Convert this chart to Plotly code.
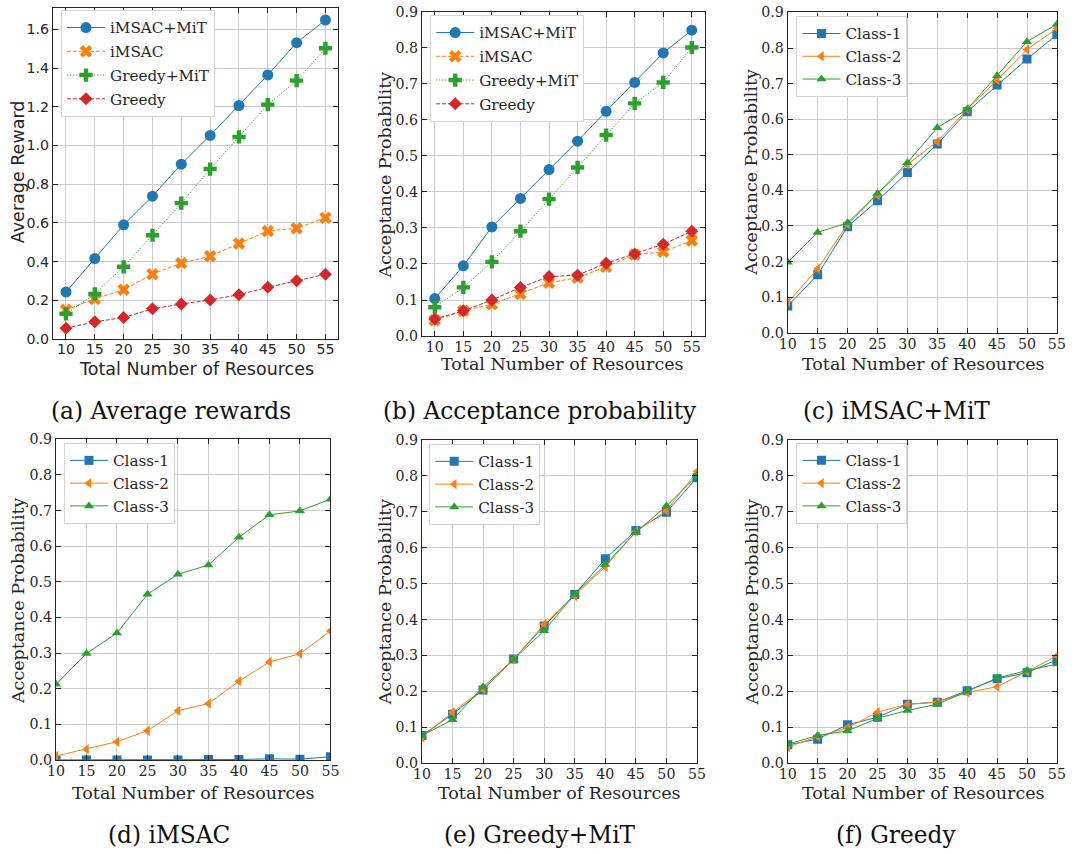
import plotly.graph_objects as go

# ---------------------------------------------------------------- data
resources = [10, 15, 20, 25, 30, 35, 40, 45, 50, 55]
x_ticks = [10, 15, 20, 25, 30, 35, 40, 45, 50, 55]

# (a) average reward per scheme
reward_imsac_mit = [0.243, 0.416, 0.590, 0.738, 0.903, 1.052, 1.206, 1.364, 1.531, 1.648]
reward_imsac = [0.151, 0.207, 0.255, 0.335, 0.392, 0.428, 0.493, 0.558, 0.572, 0.626]
reward_greedy_mit = [0.130, 0.233, 0.373, 0.536, 0.702, 0.878, 1.044, 1.211, 1.335, 1.502]
reward_greedy = [0.056, 0.089, 0.111, 0.156, 0.181, 0.202, 0.229, 0.267, 0.301, 0.335]

# (b) overall acceptance probability per scheme
acc_imsac_mit = [0.104, 0.195, 0.303, 0.382, 0.462, 0.541, 0.624, 0.704, 0.786, 0.849]
acc_imsac = [0.044, 0.070, 0.088, 0.117, 0.148, 0.162, 0.192, 0.226, 0.234, 0.265]
acc_greedy_mit = [0.080, 0.135, 0.206, 0.291, 0.380, 0.468, 0.558, 0.646, 0.704, 0.801]
acc_greedy = [0.047, 0.070, 0.100, 0.135, 0.165, 0.169, 0.202, 0.228, 0.255, 0.291]

# (c) iMSAC+MiT, per class
c_class1 = [0.075, 0.163, 0.298, 0.371, 0.450, 0.530, 0.621, 0.696, 0.769, 0.838]
c_class2 = [0.085, 0.180, 0.305, 0.387, 0.473, 0.537, 0.628, 0.710, 0.796, 0.855]
c_class3 = [0.198, 0.282, 0.309, 0.391, 0.478, 0.576, 0.628, 0.722, 0.818, 0.867]

# (d) iMSAC, per class
d_class1 = [0.000, 0.000, 0.000, 0.000, 0.000, 0.001, 0.001, 0.003, 0.002, 0.009]
d_class2 = [0.011, 0.030, 0.051, 0.082, 0.138, 0.158, 0.221, 0.275, 0.298, 0.362]
d_class3 = [0.212, 0.299, 0.356, 0.465, 0.521, 0.547, 0.625, 0.688, 0.699, 0.732]

# (e) Greedy+MiT, per class
e_class1 = [0.077, 0.136, 0.204, 0.290, 0.382, 0.470, 0.569, 0.648, 0.699, 0.795]
e_class2 = [0.072, 0.142, 0.206, 0.289, 0.387, 0.466, 0.547, 0.645, 0.703, 0.812]
e_class3 = [0.077, 0.121, 0.212, 0.289, 0.369, 0.470, 0.553, 0.643, 0.716, 0.801]

# (f) Greedy, per class
f_class1 = [0.051, 0.067, 0.107, 0.128, 0.164, 0.170, 0.202, 0.235, 0.252, 0.288]
f_class2 = [0.045, 0.074, 0.099, 0.142, 0.164, 0.170, 0.197, 0.213, 0.255, 0.299]
f_class3 = [0.053, 0.077, 0.090, 0.125, 0.147, 0.164, 0.200, 0.237, 0.258, 0.276]

scheme_names = ["iMSAC+MiT", "iMSAC", "Greedy+MiT", "Greedy"]
class_names = ["Class-1", "Class-2", "Class-3"]
captions = ["(a) Average rewards", "(b) Acceptance probability", "(c) iMSAC+MiT",
            "(d) iMSAC", "(e) Greedy+MiT", "(f) Greedy"]

# ---------------------------------------------------------------- styling
W, H = 1075, 854
BODY = 8                      # default page-body margin around the figure
SX = (W + 2 * BODY) / W       # page-to-view scale, horizontal
SY = (H + 2 * BODY) / H       # page-to-view scale, vertical
BLUE, ORANGE, GREEN, RED = "#1f77b4", "#ff7f0e", "#2ca02c", "#d62728"
INK = "#262626"
GRID = "#cbcbcb"
SERIF = "DejaVu Serif"
SANS = "DejaVu Sans"


def px(x):
    """View x-pixel -> paper fraction."""
    return min(max((x * SX - BODY) / W, 0.0), 1.0)


def py(y):
    """View y-pixel (from top) -> paper fraction."""
    return 1 - min(max((y * SY - BODY) / H, 0.0), 1.0)


# panel boxes in view pixels: (left, top, right, bottom)
boxes = [
    (52, 7, 338, 339),
    (421.7, 11.7, 705, 336),
    (788.3, 12.3, 1058, 332.7),
    (55, 439.3, 330, 760),
    (421.7, 440, 697.3, 763.3),
    (788.3, 440, 1058, 763.3),
]
# axis-title centres
x_title_pos = [(196, 369), (563, 364), (924, 364), (193, 793), (560, 793), (924, 793)]
y_title_pos = [(17, 172), (385, 175), (752, 172), (17, 601), (385, 602), (752, 602)]
# legend boxes (left, top)
legend_pos = [(60, 10), (430, 15), (797, 16), (63, 443), (429, 444), (797, 443)]
# caption centres
caption_pos = [(170, 410), (540, 410), (897, 410), (168, 835), (540, 835), (897, 835)]

fig = go.Figure()
layout = dict(
    width=W, height=H,
    margin=dict(l=0, r=0, t=0, b=0),
    paper_bgcolor="white", plot_bgcolor="white",
    showlegend=True,
    annotations=[],
)

scheme_styles = [
    dict(color=BLUE, symbol="circle", size=11, dash="solid"),
    dict(color=ORANGE, symbol="x", size=11, dash="4px,1.8px"),
    dict(color=GREEN, symbol="cross", size=11, dash="1.2px,1.8px"),
    dict(color=RED, symbol="diamond", size=10, dash="4px,1.8px"),
]
class_styles = [
    dict(color=BLUE, symbol="square", size=9, dash="solid"),
    dict(color=ORANGE, symbol="triangle-left", size=9, dash="solid"),
    dict(color=GREEN, symbol="triangle-up", size=9, dash="solid"),
]

panels = [
    [reward_imsac_mit, reward_imsac, reward_greedy_mit, reward_greedy],
    [acc_imsac_mit, acc_imsac, acc_greedy_mit, acc_greedy],
    [c_class1, c_class2, c_class3],
    [d_class1, d_class2, d_class3],
    [e_class1, e_class2, e_class3],
    [f_class1, f_class2, f_class3],
]
y_titles = ["Average Reward"] + ["Acceptance Probability"] * 5

for i, series in enumerate(panels):
    n = i + 1
    xa = "x" if n == 1 else f"x{n}"
    ya = "y" if n == 1 else f"y{n}"
    lg = "legend" if n == 1 else f"legend{n}"
    tick_font = SANS if i == 0 else SERIF
    L, T, R, B = boxes[i]

    names, styles = (scheme_names, scheme_styles) if i < 2 else (class_names, class_styles)
    for k, (name, vals, st) in enumerate(zip(names, series, styles)):
        fig.add_trace(go.Scatter(
            x=resources, y=vals, name=name, xaxis=xa, yaxis=ya,
            legend=lg, legendgroup=f"p{n}s{k}",
            mode="lines+markers",
            line=dict(color=st["color"], width=1, dash=st["dash"]),
            marker=dict(color=st["color"], symbol=st["symbol"], size=st["size"],
                        line=dict(width=0)),
        ))

    if i == 0:
        yrange, dtick = [0, 1.71], 0.2
    else:
        yrange, dtick = [0, 0.9], 0.1
    xrange = [7.75, 57.25] if i < 2 else [10, 55]

    axis_common = dict(
        showline=True, linecolor=INK, linewidth=1.2, mirror="ticks",
        ticks="inside", ticklen=5, tickwidth=1, tickcolor=INK,
        showgrid=True, gridcolor=GRID, gridwidth=1, zeroline=False,
        tickfont=dict(family=tick_font, size=14.2, color=INK),
    )
    layout["xaxis" if n == 1 else f"xaxis{n}"] = dict(
        axis_common, domain=[px(L), px(R)], range=xrange,
        tickmode="array", tickvals=x_ticks, ticktext=[str(v) for v in x_ticks],
        anchor=ya, ticklabelstandoff=-3 if i == 0 else -2,
    )
    layout["yaxis" if n == 1 else f"yaxis{n}"] = dict(
        axis_common, domain=[py(B), py(T)], range=yrange,
        tick0=0, dtick=dtick, tickformat=".1f", anchor=xa,
    )

    lx, ly = legend_pos[i]
    layout[lg] = dict(
        x=px(lx), y=py(ly), xanchor="left", yanchor="top",
        bgcolor="white", bordercolor="#d4d4d4", borderwidth=1,
        font=dict(family=SERIF, size=15.2, color=INK),
        itemwidth=38, tracegroupgap=1 if i < 2 else 0,
    )

    tx, ty = x_title_pos[i]
    layout["annotations"].append(dict(
        text="Total Number of Resources", xref="paper", yref="paper",
        x=px(tx), y=py(ty), xanchor="center", yanchor="middle", showarrow=False,
        font=dict(family=tick_font, size=17.5, color=INK),
    ))
    vx, vy = y_title_pos[i]
    layout["annotations"].append(dict(
        text=y_titles[i], xref="paper", yref="paper",
        x=px(vx), y=py(vy), textangle=-90,
        xanchor="center", yanchor="middle", showarrow=False,
        font=dict(family=tick_font, size=17.5, color=INK),
    ))

# captions below each panel
for text, (cx, cy) in zip(captions, caption_pos):
    layout["annotations"].append(dict(
        text=text, xref="paper", yref="paper", x=px(cx), y=py(cy),
        xanchor="center", yanchor="middle", showarrow=False,
        font=dict(family=SERIF, size=23.3, color="#111111"),
    ))

fig.update_layout(**layout)
fig.write_html("out.html")
